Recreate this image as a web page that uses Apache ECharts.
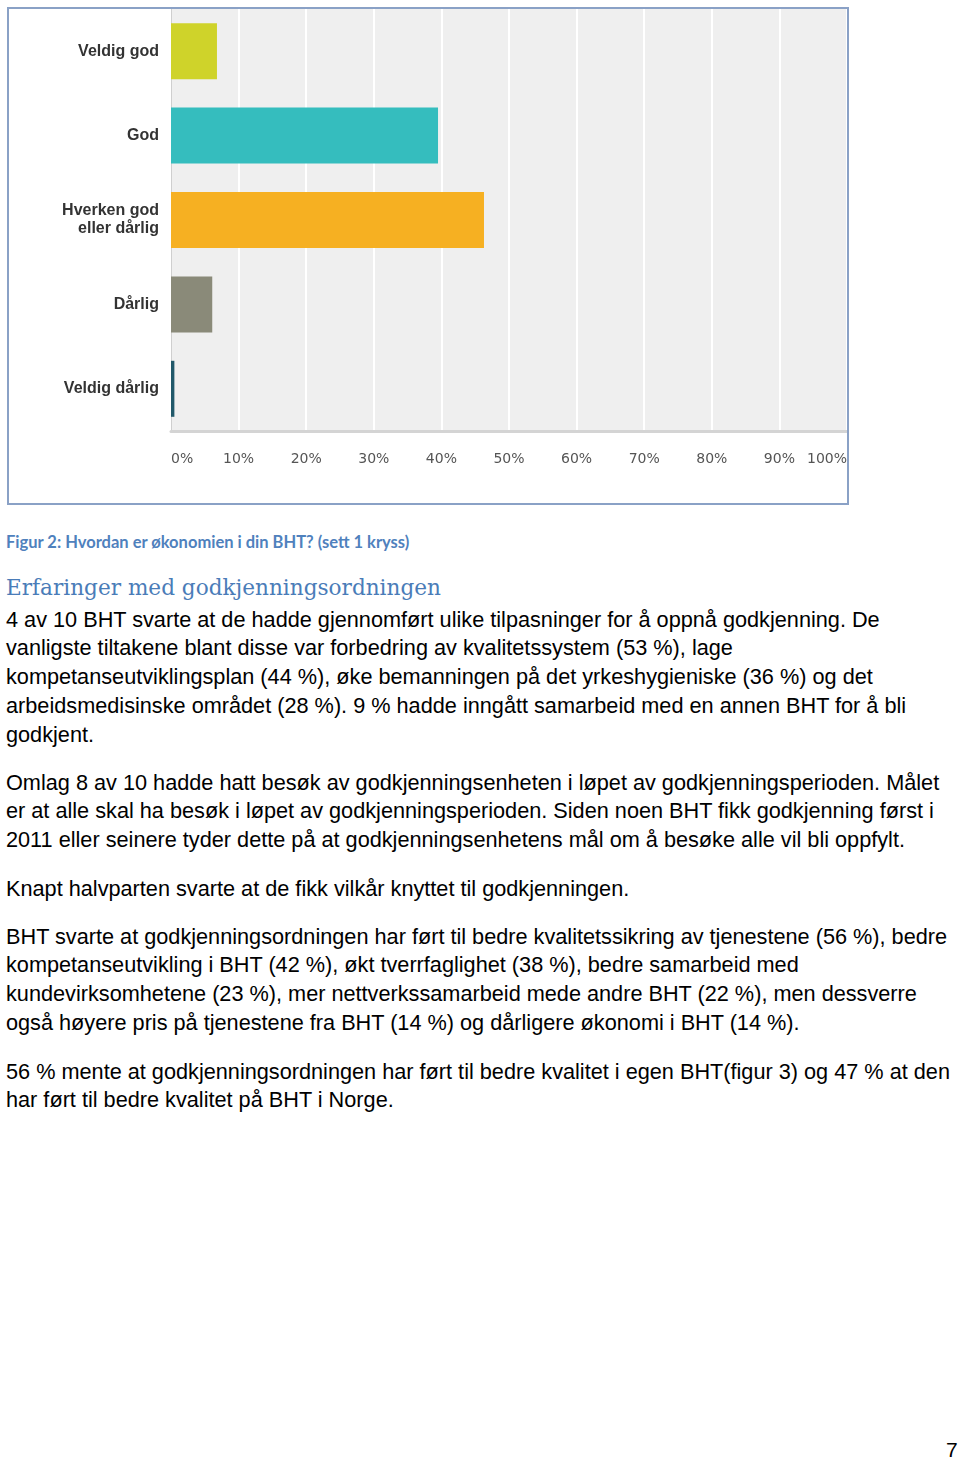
<!DOCTYPE html>
<html>
<head>
<meta charset="utf-8">
<script src="https://cdn.jsdelivr.net/npm/echarts@6/dist/echarts.min.js"></script>
<style>
  html, body { margin:0; padding:0; background:#fff; }
  body { width:960px; height:1461px; position:relative; overflow:hidden; }
  #chart { position:absolute; left:0; top:0; width:960px; height:515px; }
  .cap { position:absolute; left:6px; top:531px; font-family:Lato, "Open Sans", sans-serif; font-weight:bold; font-size:16.5px; color:#4f81bd; white-space:nowrap; line-height:22px; }
  .head { position:absolute; left:6px; top:571px; font-family:"DejaVu Serif", "Liberation Serif", serif; font-size:21.6px; color:#4a7cb8; white-space:nowrap; line-height:34px; }
  .para { position:absolute; left:6px; font-family:"Liberation Sans", Arial, sans-serif; font-size:21.7px; color:#000; white-space:nowrap; line-height:28.75px; }
  .pg { position:absolute; left:946px; top:1437px; font-family:"Liberation Sans", Arial, sans-serif; font-size:21px; color:#000; line-height:26px; }
</style>
</head>
<body>
<div id="chart"></div>
<div class="cap" id="caption"></div>
<div class="head" id="heading"></div>
<div class="para" style="top:605.6px">4 av 10 BHT svarte at de hadde gjennomført ulike tilpasninger for å oppnå godkjenning. De<br>vanligste tiltakene blant disse var forbedring av kvalitetssystem (53 %), lage<br>kompetanseutviklingsplan (44 %), øke bemanningen på det yrkeshygieniske (36 %) og det<br>arbeidsmedisinske området (28 %). 9 % hadde inngått samarbeid med en annen BHT for å bli<br>godkjent.</div>
<div class="para" style="top:768.6px">Omlag 8 av 10 hadde hatt besøk av godkjenningsenheten i løpet av godkjenningsperioden. Målet<br>er at alle skal ha besøk i løpet av godkjenningsperioden. Siden noen BHT fikk godkjenning først i<br>2011 eller seinere tyder dette på at godkjenningsenhetens mål om å besøke alle vil bli oppfylt.</div>
<div class="para" style="top:874.6px">Knapt halvparten svarte at de fikk vilkår knyttet til godkjenningen.</div>
<div class="para" style="top:922.6px">BHT svarte at godkjenningsordningen har ført til bedre kvalitetssikring av tjenestene (56 %), bedre<br>kompetanseutvikling i BHT (42 %), økt tverrfaglighet (38 %), bedre samarbeid med<br>kundevirksomhetene (23 %), mer nettverkssamarbeid mede andre BHT (22 %), men dessverre<br>også høyere pris på tjenestene fra BHT (14 %) og dårligere økonomi i BHT (14 %).</div>
<div class="para" style="top:1057.6px">56 % mente at godkjenningsordningen har ført til bedre kvalitet i egen BHT(figur 3) og 47 % at den<br>har ført til bedre kvalitet på BHT i Norge.</div>
<div class="pg">7</div>
<script>
const categories = ['Veldig god', 'God', 'Hverken god\neller dårlig', 'Dårlig', 'Veldig dårlig'];
const values = [6.8, 39.5, 46.3, 6.1, 0.5];
const barColors = ['#cfd32a', '#35bdbe', '#f6b022', '#8a8a79', '#21596a'];
const xTicks = [0, 10, 20, 30, 40, 50, 60, 70, 80, 90, 100];
const captionText = 'Figur 2: Hvordan er økonomien i din BHT? (sett 1 kryss)';
const headingText = 'Erfaringer med godkjenningsordningen';

document.getElementById('caption').textContent = captionText;
document.getElementById('heading').textContent = headingText;

const chart = echarts.init(document.getElementById('chart'), null, { renderer: 'canvas' });
chart.setOption({
  animation: false,
  backgroundColor: '#fff',
  grid: {
    left: 171, top: 9, width: 676, height: 422,
    show: true, backgroundColor: '#efefef', borderWidth: 0
  },
  xAxis: {
    type: 'value',
    min: xTicks[0], max: xTicks[xTicks.length - 1], interval: 10,
    axisLine: { show: true, onZero: false, lineStyle: { color: '#d4d4d4', width: 3 } },
    axisTick: { show: false },
    splitLine: { show: true, lineStyle: { color: '#ffffff', width: 2 } },
    axisLabel: {
      formatter: '{value}%', margin: 21,
      fontFamily: 'DejaVu Sans', fontSize: 14, color: '#555',
      alignMinLabel: 'left', alignMaxLabel: 'right'
    }
  },
  yAxis: {
    type: 'category', inverse: true, data: categories,
    axisLine: { show: true, lineStyle: { color: '#cfcfcf', width: 1 } },
    axisTick: { show: false },
    splitLine: { show: false },
    axisLabel: {
      margin: 12, fontFamily: 'Liberation Sans', fontWeight: 'bold',
      fontSize: 16, color: '#333', lineHeight: 18, align: 'right'
    }
  },
  series: [{
    type: 'bar',
    data: values.map((v, i) => ({ value: v, itemStyle: { color: barColors[i] } })),
    barWidth: 56
  }],
  graphic: [{
    type: 'rect', z: 100,
    shape: { x: 8, y: 8, width: 840, height: 496 },
    style: { fill: 'none', stroke: '#8aa1c6', lineWidth: 2 }
  }]
});
</script>
</body>
</html>
